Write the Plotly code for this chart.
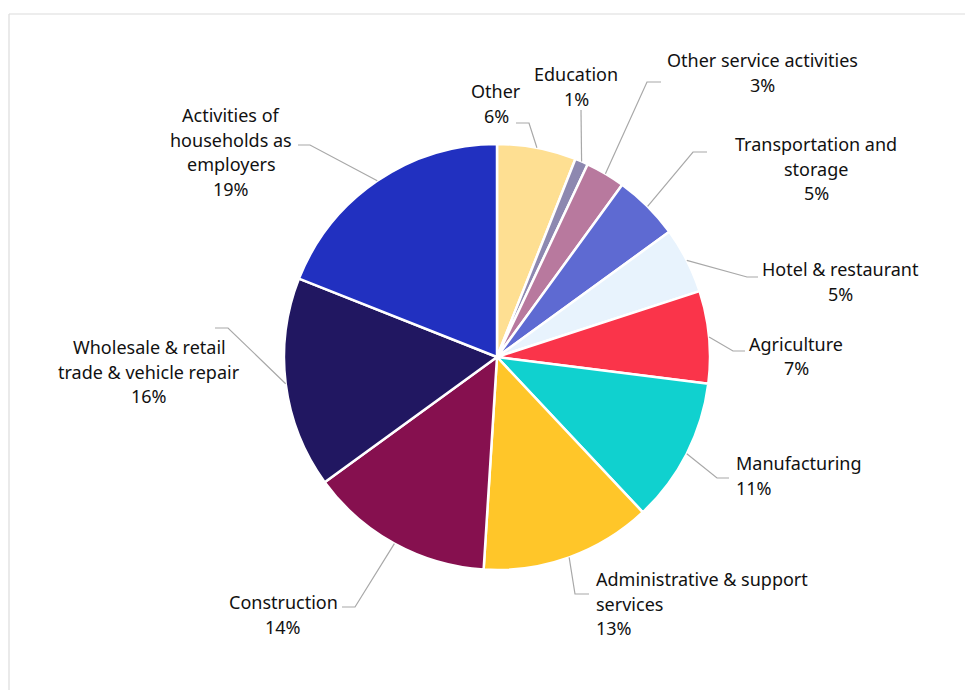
import math
import plotly.graph_objects as go

# Employment share by sector (%), listed clockwise from 12 o'clock
sectors = [
    "Other",
    "Education",
    "Other service activities",
    "Transportation and storage",
    "Hotel & restaurant",
    "Agriculture",
    "Manufacturing",
    "Administrative & support services",
    "Construction",
    "Wholesale & retail trade & vehicle repair",
    "Activities of households as employers",
]
shares = [6, 1, 3, 5, 5, 7, 11, 13, 14, 16, 19]
colors = [
    "#FEDF92", "#8D88B0", "#B8799E", "#5E6AD2", "#E8F3FD", "#FA344A",
    "#10D1CF", "#FFC629", "#86104F", "#211761", "#2130C0",
]

# Canvas and pie geometry (pixels)
W, H = 965, 690
CX, CY, R = 497, 357, 213

# How each outside label is laid out: wrapped lines, leader elbow,
# leader end, text anchor x, first-line y, alignment
label_layout = [
    dict(lines=["Other"], elbow=(529, 123), end=(516, 123), tx=496, ty=91, align="center"),
    dict(lines=["Education"], elbow=(581, 110), end=(581, 110), tx=576, ty=74, align="center"),
    dict(lines=["Other service activities"], elbow=(647, 82), end=(661, 82), tx=762, ty=60, align="center"),
    dict(lines=["Transportation and", "storage"], elbow=(693, 152), end=(707, 152), tx=816, ty=144, align="center"),
    dict(lines=["Hotel & restaurant"], elbow=(747, 277), end=(758, 277), tx=840, ty=269, align="center"),
    dict(lines=["Agriculture"], elbow=(733, 351), end=(745, 351), tx=796, ty=344, align="center"),
    dict(lines=["Manufacturing"], elbow=(717, 478), end=(729, 478), tx=734, ty=463, align="left"),
    dict(lines=["Administrative & support", "services"], elbow=(575, 594), end=(589, 594), tx=594, ty=579, align="left"),
    dict(lines=["Construction"], elbow=(355, 607), end=(342, 607), tx=283, ty=602, align="center"),
    dict(lines=["Wholesale & retail", "trade & vehicle repair"], elbow=(228, 328), end=(215, 328), tx=149, ty=347, align="center"),
    dict(lines=["Activities of", "households as", "employers"], elbow=(310, 145), end=(298, 145), tx=231, ty=115, align="center"),
]
LINE_GAP = 24.5
FONT = dict(family="Noto Sans, Open Sans, sans-serif", size=18, color="#111111")
LEADER_COLOR = "#A8A8A8"


def px(x):
    return x / W


def py(y):
    return 1 - y / H


fig = go.Figure(
    go.Pie(
        labels=sectors,
        values=shares,
        sort=False,
        direction="clockwise",
        rotation=0,
        marker=dict(colors=colors, line=dict(color="white", width=2.5)),
        textinfo="none",
        hoverinfo="label+percent",
        showlegend=False,
        domain=dict(
            x=[px(CX - R), px(CX + R)],
            y=[py(CY + R), py(CY - R)],
        ),
    )
)

# Leader lines start at each slice's mid-angle on the rim
total = sum(shares)
cum = 0
shapes = []
annotations = []
for sector, share, lay in zip(sectors, shares, label_layout):
    mid = (cum + share / 2) / total * 2 * math.pi
    cum += share
    sx = CX + R * math.sin(mid)
    sy = CY - R * math.cos(mid)
    ex, ey = lay["elbow"]
    fx, fy = lay["end"]
    path = f"M {px(sx)},{py(sy)} L {px(ex)},{py(ey)} L {px(fx)},{py(fy)}"
    shapes.append(dict(type="path", xref="paper", yref="paper", path=path,
                       line=dict(color=LEADER_COLOR, width=1.2)))
    lines = lay["lines"] + [f"{share}%"]
    for i, line in enumerate(lines):
        annotations.append(dict(
            text=line, xref="paper", yref="paper",
            x=px(lay["tx"]), y=py(lay["ty"] + i * LINE_GAP),
            xanchor="left" if lay["align"] == "left" else "center",
            yanchor="middle", showarrow=False, font=FONT,
        ))

# Light frame along the top and left edges
shapes.append(dict(type="line", xref="paper", yref="paper",
                   x0=px(9), y0=py(14), x1=1.02, y1=py(14),
                   line=dict(color="#DCDCDC", width=1.2)))
shapes.append(dict(type="line", xref="paper", yref="paper",
                   x0=px(9), y0=py(14), x1=px(9), y1=-0.02,
                   line=dict(color="#DCDCDC", width=1.2)))

fig.update_layout(
    width=W, height=H,
    margin=dict(l=0, r=0, t=0, b=0),
    paper_bgcolor="white",
    plot_bgcolor="white",
    shapes=shapes,
    annotations=annotations,
)

fig.write_html("out.html")
